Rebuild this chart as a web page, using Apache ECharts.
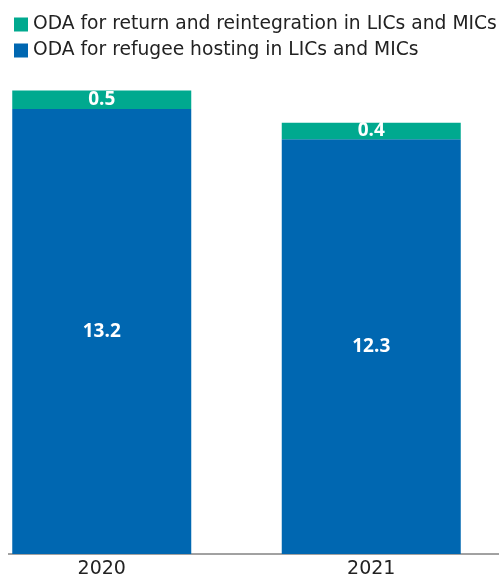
<!DOCTYPE html>
<html><head><meta charset="utf-8">
<script src="https://cdn.jsdelivr.net/npm/echarts@6/dist/echarts.min.js"></script>
<style>html,body{margin:0;padding:0;background:#fff}#c{width:499px;height:578px}</style>
</head><body><div id="c"></div>
<script>
const categories = ['2020', '2021'];
const refugeeHosting = [13.2, 12.3];
const returnReintegration = [0.55, 0.49];
const seriesNames = ['ODA for return and reintegration in LICs and MICs', 'ODA for refugee hosting in LICs and MICs'];

const truncate1 = function (p) { return (Math.floor(p.value * 10 + 1e-9) / 10).toFixed(1); };

const chart = echarts.init(document.getElementById('c'));
chart.setOption({
  animation: false,
  legend: {
    orient: 'vertical', left: 9, top: 10, itemGap: 7, itemWidth: 14, itemHeight: 14,
    icon: 'rect',
    data: [seriesNames[0], seriesNames[1]],
    textStyle: { fontFamily: 'DejaVu Sans', fontSize: 18.7, color: '#222' }
  },
  grid: { left: -33, right: -7, top: 82, bottom: 24, outerBoundsMode: 'none', containLabel: false },
  xAxis: {
    type: 'category', data: categories,
    axisLine: { show: false }, axisTick: { show: false },
    axisLabel: { fontFamily: 'DejaVu Sans', fontSize: 19, color: '#222', margin: 6 }
  },
  yAxis: { type: 'value', min: 0, max: 14, show: false, splitLine: { show: false } },
  graphic: [{ type: 'line', shape: { x1: 8, y1: 554, x2: 499, y2: 554 }, style: { stroke: '#444', lineWidth: 1 } }],
  series: [
    {
      name: seriesNames[1], type: 'bar', stack: 's', data: refugeeHosting, barWidth: 179,
      itemStyle: { color: '#0067B1' },
      label: { show: true, position: 'inside', color: '#fff', fontFamily: 'Open Sans', fontWeight: 'bold', fontSize: 19 }
    },
    {
      name: seriesNames[0], type: 'bar', stack: 's', data: returnReintegration, barWidth: 179,
      itemStyle: { color: '#00A98F' },
      label: { show: true, position: 'inside', color: '#fff', fontFamily: 'Open Sans', fontWeight: 'bold', fontSize: 19, formatter: truncate1 }
    }
  ]
});
</script></body></html>
